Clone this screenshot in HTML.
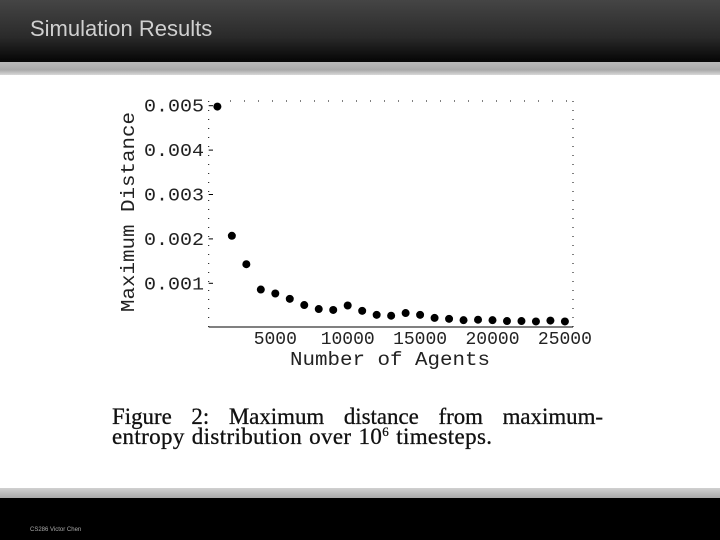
<!DOCTYPE html>
<html><head><meta charset="utf-8"><style>
body{margin:0;width:720px;height:540px;overflow:hidden;background:#fff;position:relative;font-family:"Liberation Sans",sans-serif}
#hdr{position:absolute;left:0;top:0;width:720px;height:62px;background:linear-gradient(#454545,#2a2a2a 60%,#050505)}
#hdr span{position:absolute;left:30px;top:16px;color:#d0d0d0;font-size:22px}
#band1{position:absolute;left:0;top:62px;width:720px;height:13px;background:linear-gradient(#b8b8b8,#a8a8a8 60%,#d8d8d8)}
#band2{position:absolute;left:0;top:488px;width:720px;height:10px;background:linear-gradient(#d0d0d0,#a8a8a8)}
#ftr{position:absolute;left:0;top:498px;width:720px;height:42px;background:#000}
#ftr span{position:absolute;left:30px;top:29px;color:#aaa;font-size:6px}
svg{position:absolute;left:0;top:0}
</style></head><body>
<div id="hdr"><span>Simulation Results</span></div>
<div id="band1"></div>
<svg id="chart" width="720" height="540"></svg>
<div id="band2"></div>
<div id="ftr"><span>CS286 Victor Chen</span></div>
<script>
const agents=[1000,2000,3000,4000,5000,6000,7000,8000,9000,10000,11000,12000,13000,14000,15000,16000,17000,18000,19000,20000,21000,22000,23000,24000,25000];
const distances=[0.00498,0.00207,0.00143,0.00086,0.00077,0.00065,0.00051,0.00042,0.0004,0.0005,0.00038,0.00029,0.00027,0.00033,0.00029,0.00022,0.0002,0.00017,0.00018,0.00017,0.00015,0.00015,0.00014,0.00016,0.00014];
const xTicks=[5000,10000,15000,20000,25000];
const yTicks=[0.001,0.002,0.003,0.004,0.005];
const NS='http://www.w3.org/2000/svg';
const svg=document.getElementById('chart');
const X=v=>202.9+v/5000*72.4;
const Y=v=>327.7-v*44400;
function mk(t,a){const e=document.createElementNS(NS,t);for(const k in a)e.setAttribute(k,a[k]);svg.appendChild(e);return e;}
const f='"Liberation Mono",monospace';
let e;
e=mk('line',{x1:208.7,y1:327,x2:573,y2:327,stroke:'#000','stroke-width':1});


e=mk('line',{x1:208.7,y1:101,x2:208.7,y2:327,stroke:'#000','stroke-width':1,'stroke-dasharray':'1 8'});


e=mk('line',{x1:573,y1:101,x2:573,y2:327,stroke:'#000','stroke-width':1,'stroke-dasharray':'1 8'});


e=mk('line',{x1:230,y1:101,x2:573,y2:101,stroke:'#000','stroke-width':1,'stroke-dasharray':'1 13'});


yTicks.forEach(v=>{
 e=mk('text',{x:204,y:Y(v)+6,'text-anchor':'end','font-family':f,'font-size':18,fill:'#222',textLength:60,lengthAdjust:'spacingAndGlyphs'});
 e.textContent=v.toFixed(3);
 
 
 e=mk('line',{x1:208.7,y1:Y(v),x2:213,y2:Y(v),stroke:'#000','stroke-width':1});
 
 
});
xTicks.forEach(v=>{
 e=mk('text',{x:X(v),y:344,'text-anchor':'middle','font-family':f,'font-size':18,fill:'#222'});
 e.textContent=v;
 
 
});
e=mk('text',{x:390,y:365,'text-anchor':'middle','font-family':f,'font-size':19,fill:'#222',textLength:200,lengthAdjust:'spacingAndGlyphs'});
e.textContent='Number of Agents';


e=mk('text',{x:0,y:0,'text-anchor':'middle','font-family':f,'font-size':19,fill:'#222',transform:'translate(134,212) rotate(-90)',textLength:200,lengthAdjust:'spacingAndGlyphs'});
e.textContent='Maximum Distance';


agents.forEach((a,i)=>{
 e=mk('circle',{cx:X(a),cy:Y(distances[i]),r:4,fill:'#000'});
 
 
});
const cf='"Liberation Serif",serif';
e=mk('text',{x:112,y:424,'font-family':cf,'font-size':23,fill:'#111',stroke:'#111','stroke-width':0.3,'word-spacing':14,textLength:491,lengthAdjust:'spacingAndGlyphs'});
e.textContent='Figure 2:  Maximum distance from maximum-';


e=mk('text',{x:112,y:444,'font-family':cf,'font-size':23,fill:'#111',stroke:'#111','stroke-width':0.3,'letter-spacing':0.35,'word-spacing':1});
e.innerHTML='entropy distribution over 10<tspan dy="-8" font-size="13">6</tspan><tspan dy="8"> timesteps.</tspan>';


</script>
</body></html>
